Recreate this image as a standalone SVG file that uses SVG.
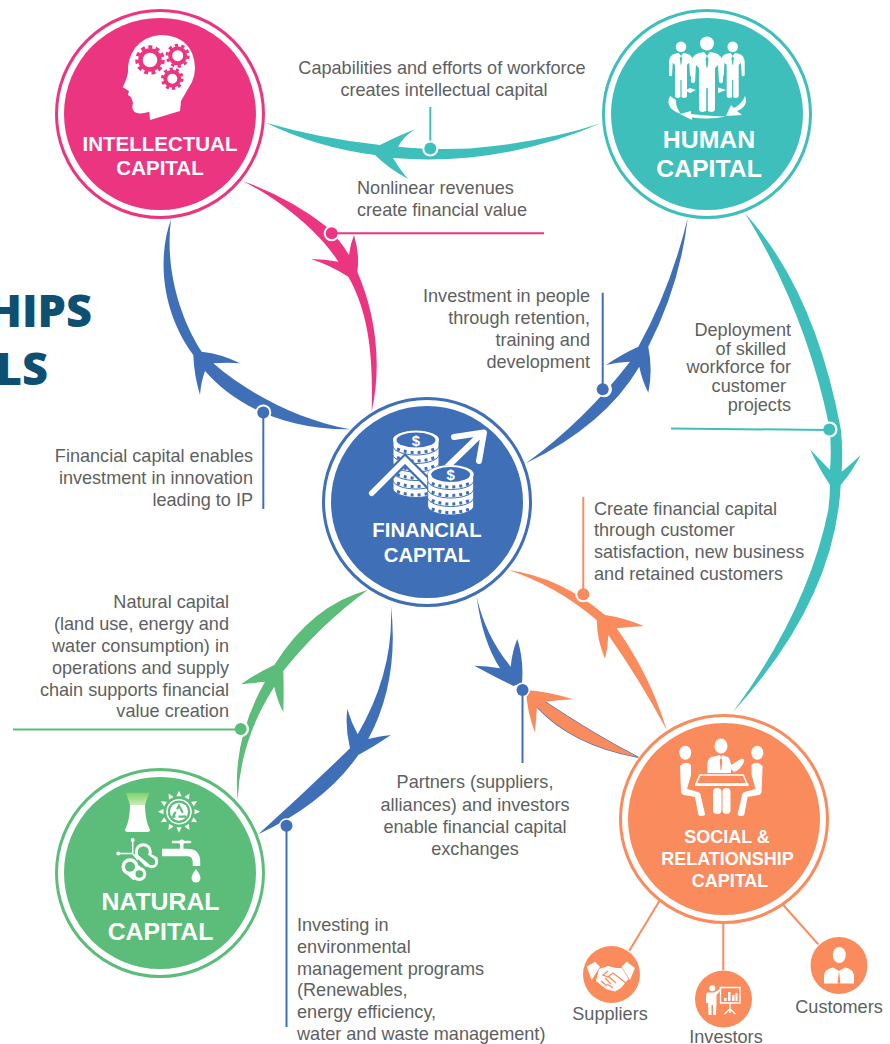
<svg xmlns="http://www.w3.org/2000/svg" width="890" height="1044" viewBox="0 0 890 1044">
<style>
text{font-family:"Liberation Sans",Arial,sans-serif}
.t{font-size:18.1px;fill:#5e5f61}
.e{text-anchor:end}
.m{text-anchor:middle}
.n{font-weight:700;fill:#fff;text-anchor:middle}
.title{font-family:"Open Sans","Noto Sans",sans-serif;font-weight:800;font-size:45px;fill:#0e5072;text-anchor:end}
.pink{fill:#ec3581}.teal{fill:#3fbfbb}.blue{fill:#3f6fb7}.green{fill:#5cbc79}.orange{fill:#f98b5c}
.w{fill:#fff}
.halo{fill:#fff}
.lp{stroke:#ec3581}.lt{stroke:#3fbfbb}.lb{stroke:#3f6fb7}.lg{stroke:#5cbc79}.lo{stroke:#f98b5c}
.l{stroke-width:2;fill:none}
.ring{fill:#fff;stroke-width:3}
</style>
<defs>
<linearGradient id="steam" x1="0" y1="0" x2="0" y2="1"><stop offset="0" stop-color="#7fd06a"/><stop offset="1" stop-color="#c6efb8"/></linearGradient>
<g id="person">
<circle r="7" class="w"/>
<path class="w" d="M-8 9.500Q-15.500 11.500-16 20.500V38.500Q-14 40.500-12 38.500L-11 21.500-8 24.500V65.500Q-8 68.500-4 68.500L-.8 67.500V44.500H.8V67.500L4 68.500Q8 68.500 8 65.500V24.500L11 21.500 12 38.500Q14 40.500 16 38.500V20.500Q15.500 11.500 8 9.500L3 8.500 0 12.500-3 8.500Z"/>
<path class="teal" d="M0 12.500-1.500 15.500-.5 24H.5L1.500 15.500Z"/>
</g>
<g id="coin">
<path class="w" stroke="#3f6fb7" stroke-width="1" d="M-23 0V6A23 9 0 0 0 23 6V0A23 9 0 0 0-23 0Z"/>
<path d="M-19 9Q0 16 19 9" fill="none" stroke="#3f6fb7" stroke-width="3" stroke-dasharray="3 4"/>
</g>
<g id="cointop">
<use href="#coin"/>
<ellipse rx="23" ry="9.500" class="w"/>
<ellipse rx="19.500" ry="7.500" class="blue"/>
</g>
<polygon id="ray" class="w" points="-2.600,-15.500 2.600,-15.500 0,-21"/>
</defs>

<g id="title">
<text class="title" x="92" y="327">HIPS</text>
<text class="title" x="48" y="385">LS</text>
</g>

<g id="connectors">
<path id="c-human-intellectual" class="teal" d="M266 122.700Q318 138 380 145Q400 135 415 129.300Q404 136 398 146.700Q430 150 470 148.500Q545 142 600.700 123.300Q540 150 470 157.500Q430 161 393 158Q400 170 408 179Q388 168 375 155Q315 147 266 122.700Z"/>
<path class="l lt" d="M430.300 107V149"/>
<circle class="halo" cx="430.300" cy="148.500" r="8"/><circle class="teal" cx="430.300" cy="148.500" r="6"/>

<path id="c-intellectual-financial" class="pink" d="M242.700 181Q290 198 327 227Q340 240 349 255Q350 245 354 235Q360 255 357.300 271.700C374 310 383 360 371.700 411.700C373 360 370 315 348.300 276.700Q330 265 311 259Q325 259 338.300 261.700C325 240 290 205 242.700 181Z"/>
<circle class="halo" cx="331.700" cy="233.300" r="8"/>
<path class="l lp" d="M331.700 233.300H544"/>
<circle class="pink" cx="331.700" cy="233.300" r="6"/>

<path id="c-financial-intellectual" class="blue" d="M171 219.300C158 255 160 310 193.300 355Q194 375 200 395Q201 382 205 371C232 402 280 430 350 429.300C300 420 250 395 213.300 363.300Q228 362 240 363.300Q222 354 201.700 351.700C178 315 165 265 171 219.300Z"/>
<circle class="halo" cx="263.300" cy="412.500" r="8"/>
<path class="l lb" d="M263.300 412.500V509"/>
<circle class="blue" cx="263.300" cy="412.500" r="6"/>

<path id="c-financial-human" class="blue" d="M687.700 218.300Q680 285 648.300 346.700Q653 370 648.300 392.700Q642 380 639.300 366.700Q605 425 526 463.300Q585 420 630 361.700Q617 362 606 365Q622 354 638.300 346.700Q670 290 687.700 218.300Z"/>
<circle class="halo" cx="604" cy="389.300" r="8"/>
<path class="l lb" d="M602.700 292.700V389"/>
<circle class="blue" cx="602.700" cy="389.300" r="6"/>

<path id="c-human-social" class="teal" d="M745 213.300Q815 290 841 430Q843 450 841.700 471.700Q850 465 860.700 455Q852 472 840.700 485Q835 600 733 712Q808 610 828.300 510Q830 497 830 485Q818 467 810 449.300Q820 460 830 470Q832 445 829 425Q805 310 745 213.300Z"/>
<circle class="halo" cx="829.500" cy="429.500" r="8"/>
<path class="l lt" d="M671 428.500 829 430"/>
<circle class="teal" cx="829.300" cy="429.500" r="6"/>

<path id="c-social-financial" class="orange" d="M508.300 570Q560 577 605 615Q625 618 644 626Q630 627 616.700 628.300Q650 675 666.700 730Q640 680 608.300 635Q608 648 605 659Q597 640 596.700 620Q555 585 508.300 570Z"/>
<circle class="halo" cx="583.300" cy="594.300" r="8"/>
<path class="l lo" d="M583.300 497V594"/>
<circle class="orange" cx="583.300" cy="594.300" r="6"/>

<path id="c-financial-social" class="blue" d="M476.700 596.700Q482 640 500 668.300Q487 666 474.300 665.700Q495 677 513.300 686L522 683Q524 660 517.300 639Q512 652 510.700 666.700Q485 635 476.700 596.700Z"/>
<path fill="none" stroke="#3f6fb7" stroke-width="1.200" d="M537 707Q572 745 638.300 757.300M545 701.700Q595 735 638.300 757.300"/>
<path id="c-social-partners" class="orange" d="M526 690Q550 692 573.300 699.300Q558 700 545 701.700Q595 735 638.300 757.300Q572 745 537 707Q536 720 535 732.700Q527 712 526 690Z"/>
<circle class="halo" cx="522.500" cy="690" r="7.500"/>
<path class="l lb" d="M522.500 690V763"/>
<circle class="blue" cx="522.500" cy="690" r="6"/>

<path id="c-natural-financial" class="green" d="M367.700 590Q312 605 274.300 665Q257 673 241 684.300Q253 683 265 681.700Q232 740 237.700 800Q240 740 274.300 686.700Q277 700 283.300 712.300Q284 690 283.300 671Q320 625 367.700 590Z"/>
<circle class="halo" cx="241" cy="729" r="8"/>
<path class="l lg" d="M13 729.500H241"/>
<circle class="green" cx="240.700" cy="729" r="6"/>

<path id="c-financial-natural" class="blue" d="M390.700 603.300Q400 680 368.300 739Q380 736 391 735Q375 746 358.300 755Q325 803 258.300 834.300Q305 792 350 748.300Q345 728 347.300 709Q351 722 357.700 734.300Q395 670 390.700 603.300Z"/>
<circle class="halo" cx="286.500" cy="825.700" r="7.500"/>
<path class="l lb" d="M286.500 826V1027"/>
<circle class="blue" cx="286.500" cy="825.700" r="6"/>

<path class="l lo" d="M660 900 629.300 950.700M723.300 924V970M783.300 905 818.300 944.300"/>
</g>

<g id="labels">
<text class="t m" x="442" y="74">Capabilities and efforts of workforce</text>
<text class="t m" x="444" y="96">creates intellectual capital</text>
<text class="t" x="357" y="194">Nonlinear revenues</text>
<text class="t" x="357" y="216">create financial value</text>
<text class="t e" x="590" y="302">Investment in people</text>
<text class="t e" x="590" y="324">through retention,</text>
<text class="t e" x="590" y="346">training and</text>
<text class="t e" x="590" y="368">development</text>
<text class="t e" x="791" y="336">Deployment</text>
<text class="t e" x="786" y="355">of skilled</text>
<text class="t e" x="791" y="373">workforce for</text>
<text class="t e" x="786" y="392">customer</text>
<text class="t e" x="791" y="411">projects</text>
<text class="t e" x="253" y="462">Financial capital enables</text>
<text class="t e" x="253" y="484">investment in innovation</text>
<text class="t e" x="253" y="506">leading to IP</text>
<text class="t" x="594" y="515">Create financial capital</text>
<text class="t" x="594" y="536">through customer</text>
<text class="t" x="594" y="558">satisfaction, new business</text>
<text class="t" x="594" y="580">and retained customers</text>
<text class="t e" x="229" y="608">Natural capital</text>
<text class="t e" x="229" y="630">(land use, energy and</text>
<text class="t e" x="229" y="652">water consumption) in</text>
<text class="t e" x="229" y="674">operations and supply</text>
<text class="t e" x="229" y="696">chain supports financial</text>
<text class="t e" x="229" y="717">value creation</text>
<text class="t m" x="475" y="788">Partners (suppliers,</text>
<text class="t m" x="475" y="811">alliances) and investors</text>
<text class="t m" x="475" y="833">enable financial capital</text>
<text class="t m" x="475" y="855">exchanges</text>
<text class="t" x="297" y="931">Investing in</text>
<text class="t" x="297" y="953">environmental</text>
<text class="t" x="297" y="975">management programs</text>
<text class="t" x="297" y="996">(Renewables,</text>
<text class="t" x="297" y="1018">energy efficiency,</text>
<text class="t" x="297" y="1040">water and waste management)</text>
</g>

<g id="node-intellectual">
<circle class="ring lp" cx="160" cy="114" r="103.500"/>
<circle class="pink" cx="160" cy="114" r="96"/>
<path class="w" d="M160 35Q184 35 192 53Q198 68 192 82Q185 94 181 101L180 111 150 120 149.300 111.700Q139 115 134.500 112Q131 108 133 103L131 97 128 95 129 91 122.700 87.300Q127 79 128 72Q127 60 135 48Q145 36 160 35Z"/>
<g fill="none" stroke="#ec3581">
<circle cx="150" cy="60" r="9.500" stroke-width="4.500"/><circle cx="150" cy="60" r="13" stroke-width="3.500" stroke-dasharray="4 3.400"/>
<circle cx="177.700" cy="55.700" r="7.500" stroke-width="4"/><circle cx="177.700" cy="55.700" r="10.500" stroke-width="3" stroke-dasharray="3.300 3.300"/>
<circle cx="172.300" cy="78.700" r="7" stroke-width="4"/><circle cx="172.300" cy="78.700" r="9.800" stroke-width="3" stroke-dasharray="3.100 3.100"/>
</g>
<text class="n" x="160" y="151" font-size="20.500">INTELLECTUAL</text>
<text class="n" x="160" y="175" font-size="20.500">CAPITAL</text>
</g>

<g id="node-human">
<circle class="ring lt" cx="707" cy="114" r="103.500"/>
<circle class="teal" cx="707" cy="114" r="96"/>
<g class="w">
<path d="M670 96Q664 108 681 114Q675 106 676 100Z"/>
<path d="M691 111 680 114 692 120V117.500Q710 120 726 116.500Q710 116 691 114Z"/>
<path d="M745 96Q749 106 737 111L742 115 726 116 731 105 734 108Q742 104 745 96Z"/>
<path d="M690 88 696 90 690 93 685 90.500ZM718 87.500 726 90 718 93Z"/>
</g>
<use href="#person" transform="translate(681 46.700) scale(.75)"/>
<use href="#person" transform="translate(732.700 46.700) scale(.75)"/>
<use href="#person" transform="translate(707 43.500)"/>
<text class="n" x="709" y="148" font-size="24.800">HUMAN</text>
<text class="n" x="709" y="177" font-size="24.800">CAPITAL</text>
</g>

<g id="node-financial">
<circle class="ring lb" cx="427" cy="502" r="103.500"/>
<circle class="blue" cx="427" cy="502" r="96"/>
<use href="#coin" transform="translate(416 482.500)"/>
<use href="#coin" transform="translate(416 474)"/>
<use href="#coin" transform="translate(416 465.500)"/>
<use href="#coin" transform="translate(416 457)"/>
<use href="#coin" transform="translate(416 448.500)"/>
<use href="#cointop" transform="translate(416 440)"/>
<text x="416" y="445.500" font-size="15" font-weight="700" fill="#fff" text-anchor="middle">$</text>
<path d="M371.700 493.300 405 460 432 487" fill="none" stroke="#3f6fb7" stroke-width="10" stroke-linecap="round"/>
<path d="M371.700 493.300 405 460 432 487" fill="none" stroke="#fff" stroke-width="5.500" stroke-linecap="round"/>
<path d="M444 470 478 437M454 437 484 432.500 479 461" fill="none" stroke="#fff" stroke-width="6" stroke-linecap="round" stroke-linejoin="round"/>
<use href="#coin" transform="translate(450.700 500)"/>
<use href="#coin" transform="translate(450.700 491.500)"/>
<use href="#coin" transform="translate(450.700 483)"/>
<use href="#cointop" transform="translate(450.700 474.500)"/>
<text x="450.700" y="480" font-size="15" font-weight="700" fill="#fff" text-anchor="middle">$</text>
<text class="n" x="427" y="537" font-size="20.300">FINANCIAL</text>
<text class="n" x="427" y="561.500" font-size="20.300">CAPITAL</text>
</g>

<g id="node-natural">
<circle class="ring lg" cx="160" cy="873" r="103.500"/>
<circle class="green" cx="160" cy="873" r="96"/>
<path fill="url(#steam)" d="M126 792.700H149.300L145 805H130Z"/>
<path class="w" d="M130 805H145Q145 820 150 830Q150 832 146 832H129Q125 832 125 830Q130 820 130 805Z"/>
<g transform="translate(179 811.700)">
<use href="#ray"/><use href="#ray" transform="rotate(30)"/><use href="#ray" transform="rotate(60)"/><use href="#ray" transform="rotate(90)"/><use href="#ray" transform="rotate(120)"/><use href="#ray" transform="rotate(150)"/><use href="#ray" transform="rotate(180)"/><use href="#ray" transform="rotate(210)"/><use href="#ray" transform="rotate(240)"/><use href="#ray" transform="rotate(270)"/><use href="#ray" transform="rotate(300)"/><use href="#ray" transform="rotate(330)"/>
<circle r="12" fill="#5cbc79" stroke="#fff" stroke-width="1.500"/>
<circle r="9" class="w"/>
<path d="M0-6 6 5H-6Z" fill="none" stroke="#5cbc79" stroke-width="2.200" stroke-dasharray="8 3"/>
</g>
<path fill="none" stroke="#fff" stroke-width="1.500" d="M132.700 840V853.500H118.300M132.700 853.500 138 860"/>
<g class="w">
<circle cx="143.300" cy="851.700" r="8.500"/><circle cx="151.700" cy="861.700" r="6.500"/><path d="M137 846 158 858 146 867 135 856Z"/>
<circle cx="130" cy="866.700" r="8.500"/><circle cx="139.300" cy="874" r="7"/><path d="M124 861 140 866 145 877 133 880 122 870Z"/>
</g>
<g class="green">
<circle cx="143.300" cy="851.700" r="5.500"/><circle cx="151.700" cy="861.700" r="3.500"/><path d="M140 849 154 859 149 864 138 855Z"/>
<circle cx="130" cy="866.700" r="5"/><circle cx="139.300" cy="874" r="3.800"/>
</g>
<g fill="none" stroke="#fff">
<path stroke-width="7.500" d="M162 852.500H187Q196.500 852.500 196.500 862V866"/>
<path stroke-width="2.500" stroke-linecap="round" d="M173 842H190"/>
<path stroke-width="3.500" d="M181.700 842V850"/>
</g>
<circle class="w" cx="132.700" cy="840" r="2"/><circle class="w" cx="118.300" cy="853.500" r="2"/><circle class="w" cx="181.700" cy="842" r="2.500"/>
<path class="w" d="M196 869Q200.500 875 200.500 878A4.500 4.500 0 0 1 191.500 878Q191.500 875 196 869Z"/>
<text class="n" x="160.500" y="909.500" font-size="24.800">NATURAL</text>
<text class="n" x="160.500" y="939.500" font-size="24.800">CAPITAL</text>
</g>

<g id="node-social">
<circle class="ring lo" cx="724" cy="819" r="103.500"/>
<circle class="orange" cx="724" cy="819" r="96"/>
<ellipse class="w" cx="685.300" cy="752.700" rx="6" ry="7"/>
<path class="w" d="M680 766Q686 760 691 765V775L687 789 698 792Q701 793 701 797L705 814Q705 816 701 816Q698 816 698 813L695 797 684 795Q681 794 681 791Z"/>
<g transform="matrix(-1 0 0 1 1442.600 0)">
<ellipse class="w" cx="685.300" cy="752.700" rx="6" ry="7"/>
<path class="w" d="M680 766Q686 760 691 765V775L687 789 698 792Q701 793 701 797L705 814Q705 816 701 816Q698 816 698 813L695 797 684 795Q681 794 681 791Z"/>
</g>
<ellipse class="w" cx="721" cy="746" rx="6.500" ry="7.500"/>
<path class="w" d="M707.500 773V763Q708 757 714 756.500L720 755 721 758 722 755 728 757Q731 760 731 765L741 759Q745 758 744 762Q740 770 734 772L731 769V773Z"/>
<path class="orange" d="M721 758 719.800 760 720.500 770H721.500L722.200 760Z"/>
<path fill="none" stroke="#fff" stroke-width="1.500" d="M700 775H743.300L747 784H696Z"/>
<path class="w" d="M695 783.500H748.500V786H695Z"/>
<rect class="w" x="713" y="788" width="8.500" height="26" rx="4"/>
<rect class="w" x="722.500" y="788" width="8" height="26" rx="4"/>
<text class="n" x="727" y="843" font-size="18">SOCIAL &amp;</text>
<text class="n" x="727.500" y="865" font-size="18">RELATIONSHIP</text>
<text class="n" x="730" y="887" font-size="18">CAPITAL</text>
</g>

<g id="node-suppliers">
<circle class="orange" cx="611.500" cy="974.500" r="28.500"/>
<path class="w" d="M586.700 966.700 595 961.700 600 966.700 591.700 980ZM635 968 626.700 961.700 621.700 966.700 630 980Z"/>
<path class="w" d="M599 969 608 966 616 968 622 968 628.500 979 621 988 615 991.500 606 989 596 981Z"/>
<path fill="none" stroke="#f98b5c" stroke-width="1.300" d="M608 971 603 975 608 977 613 973 626 983M601 981 607 986M605 978 611 984M609 977 616 983M613 988 607 984"/>
<text class="t m" x="610" y="1020">Suppliers</text>
</g>

<g id="node-investors">
<circle class="orange" cx="723.500" cy="999" r="28.500"/>
<circle class="w" cx="712.300" cy="988.300" r="3"/>
<path class="w" d="M707 992.500H714L721 988.500 721.500 989.500 716.500 995V1003L716 1015H713V1005H711.500V1015H708.500L708 1003H706V995Z"/>
<path fill="none" stroke="#fff" stroke-width="1.300" d="M719.500 987.500H741M720.500 987.500V1003H740V987.500M730 1003V1013M724.500 1014 730 1009 735.500 1014"/>
<path fill="#fff" d="M724 998H726.500V1001H724ZM728 992H730.500V1001H728ZM732 995H734.500V1001H732ZM735.500 993H737.500V1001H735.500Z"/>
<text class="t m" x="726" y="1043">Investors</text>
</g>

<g id="node-customers">
<circle class="orange" cx="839" cy="965.500" r="28.500"/>
<ellipse class="w" cx="839.300" cy="955" rx="6.500" ry="8"/>
<path class="w" d="M824 983.500V975Q825 969 833 967.500L839 971 845 967.500Q853 969 854 975V983.500Z"/>
<path class="orange" d="M839 971 837.500 983.500H840.500Z"/>
<text class="t m" x="839" y="1013">Customers</text>
</g>
</svg>
